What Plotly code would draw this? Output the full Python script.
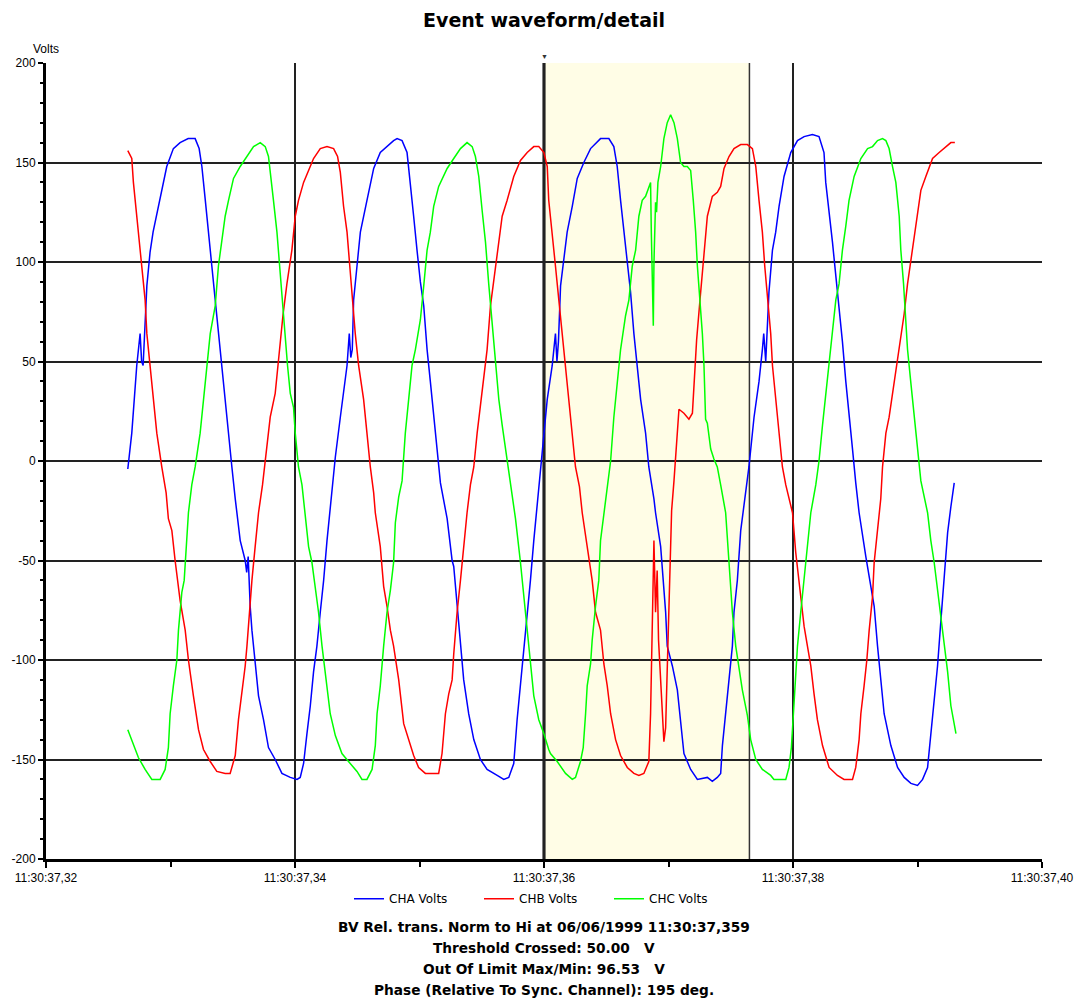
import numpy as np
import plotly.graph_objects as go

# sample times in ms after 11:30:37
cha_t = [326.57, 326.89, 327.29, 327.56, 327.68, 327.80, 328.10, 328.36, 328.60, 329.17,
         329.70, 330.23, 330.77, 331.42, 331.98, 332.30, 332.52, 332.78, 333.02, 333.32,
         333.59, 333.85, 334.13, 334.39, 334.66, 334.93, 335.20, 335.33, 335.60, 336.00,
         336.12, 336.24, 336.40, 336.54, 336.80, 337.07, 337.47, 337.87, 338.41, 338.95,
         339.62, 340.16, 340.42, 340.69, 340.96, 341.23, 341.49, 341.76, 342.03, 342.30,
         342.57, 342.83, 343.02, 343.24, 343.64, 344.18, 344.36, 344.48, 344.60, 344.71,
         344.98, 345.25, 345.78, 346.32, 346.85, 347.39, 347.92, 348.20, 348.60, 349.00,
         349.27, 349.53, 349.80, 350.07, 350.34, 350.61, 350.87, 351.14, 351.41, 351.68,
         352.22, 352.62, 352.75, 353.02, 353.29, 353.55, 353.95, 354.36, 354.89, 355.43,
         356.24, 356.77, 357.17, 357.57, 357.84, 358.11, 358.37, 358.65, 358.91, 359.18,
         359.45, 359.66, 359.99, 360.26, 360.66, 360.92, 361.04, 361.16, 361.33, 361.59,
         361.86, 362.27, 362.67, 363.20, 363.74, 364.54, 365.21, 365.61, 365.88, 366.15,
         366.42, 366.69, 366.95, 367.22, 367.49, 367.76, 368.16, 368.42, 368.83, 368.96,
         369.37, 369.77, 369.90, 370.31, 370.71, 370.97, 371.24, 371.78, 372.32, 373.12,
         373.52, 373.92, 374.19, 374.33, 374.59, 374.86, 375.13, 375.26, 375.53, 375.80,
         376.06, 376.34, 376.46, 376.87, 377.27, 377.54, 377.65, 377.81, 378.07, 378.35,
         378.61, 378.88, 379.28, 379.82, 380.36, 380.89, 381.56, 382.09, 382.49, 382.63,
         382.90, 383.17, 383.44, 383.70, 383.97, 384.24, 384.50, 384.78, 385.04, 385.31,
         385.85, 386.25, 386.52, 386.79, 387.05, 387.32, 387.86, 388.40, 388.93, 389.47,
         390.00, 390.41, 390.81, 391.07, 391.34, 391.61, 391.88, 392.14, 392.42, 392.68,
         392.95]
cha_v = [-4, 14, 48, 64, 50, 48, 88, 105, 115, 133,
         148, 157, 160, 162, 162, 157, 148, 132, 115, 98,
         81, 64, 48, 31, 14, -3, -19, -26, -40, -50,
         -56, -48, -73, -85, -102, -118, -130, -144, -150, -157,
         -159, -160, -159, -152, -137, -123, -106, -93, -76, -60,
         -40, -23, -12, 2, 22, 48, 64, 52, 56, 81,
         98, 115, 131, 147, 155, 158, 161, 162, 161, 155,
         140, 123, 106, 90, 78, 56, 40, 22, 6, -11,
         -29, -50, -53, -73, -93, -110, -127, -140, -150, -155,
         -158, -160, -159, -152, -130, -113, -93, -76, -60, -40,
         -23, -9, 14, 31, 48, 64, 50, 60, 88, 101,
         115, 128, 142, 150, 157, 162, 162, 158, 148, 131,
         115, 98, 85, 64, 48, 31, 14, -3, -19, -26,
         -43, -76, -93, -103, -115, -130, -147, -155, -160, -159,
         -161, -159, -157, -143, -127, -110, -93, -76, -60, -35,
         -23, -9, -3, 22, 40, 56, 64, 50, 85, 106,
         115, 128, 143, 155, 161, 163, 164, 163, 155, 140,
         126, 110, 93, 78, 60, 40, 22, 6, -11, -26,
         -48, -63, -73, -93, -110, -127, -143, -154, -159, -162,
         -163, -160, -154, -137, -120, -103, -80, -60, -36, -23,
         -11]

chb_t = [326.57, 326.89, 327.02, 327.29, 327.56, 327.77, 327.96, 328.10, 328.36, 328.63,
         328.90, 329.30, 329.65, 329.83, 330.11, 330.37, 330.77, 331.18, 331.44, 331.84,
         332.25, 332.65, 333.19, 333.72, 334.39, 334.79, 335.20, 335.46, 335.73, 336.00,
         336.14, 336.27, 336.54, 336.80, 337.07, 337.39, 337.61, 338.01, 338.41, 338.68,
         339.03, 339.35, 339.75, 340.02, 340.28, 340.69, 341.09, 341.49, 342.03, 342.57,
         343.10, 343.42, 343.64, 343.90, 344.18, 344.39, 344.63, 344.84, 345.11, 345.51,
         345.78, 346.05, 346.32, 346.45, 346.85, 347.12, 347.39, 347.66, 347.92, 348.33,
         348.73, 349.13, 349.53, 349.93, 350.47, 351.14, 351.54, 351.81, 352.08, 352.35,
         352.62, 352.75, 353.02, 353.29, 353.55, 353.82, 354.09, 354.36, 354.63, 355.03,
         355.43, 355.70, 356.10, 356.37, 356.64, 357.04, 357.57, 358.11, 358.65, 359.18,
         359.58, 359.99, 360.26, 360.38, 360.66, 360.92, 361.19, 361.46, 361.73, 361.99,
         362.27, 362.53, 362.85, 363.07, 363.47, 363.87, 364.14, 364.54, 364.81, 365.08,
         365.35, 365.75, 366.15, 366.69, 367.22, 367.62, 368.02, 368.42, 368.56, 368.70,
         368.83, 368.96, 369.09, 369.20, 369.37, 369.53, 369.63, 369.77, 369.93, 370.09,
         370.25, 370.44, 370.71, 370.84, 371.24, 371.64, 371.92, 372.04, 372.26, 372.53,
         372.85, 373.12, 373.52, 373.92, 374.19, 374.46, 374.86, 375.26, 375.80, 376.34,
         376.74, 377.01, 377.27, 377.54, 377.73, 377.95, 378.21, 378.35, 378.61, 378.88,
         379.15, 379.42, 379.96, 380.22, 380.62, 380.89, 381.16, 381.43, 381.69, 381.96,
         382.37, 382.90, 383.57, 384.10, 384.78, 385.04, 385.31, 385.45, 385.71, 385.93,
         386.12, 386.39, 386.52, 386.79, 387.05, 387.19, 387.46, 387.72, 388.12, 388.53,
         388.93, 389.20, 389.60, 389.87, 390.27, 390.67, 391.21, 391.74, 392.28, 392.68,
         393.00]
chb_v = [156, 152, 140, 123, 106, 90, 81, 64, 48, 31,
         14, -3, -16, -29, -35, -50, -70, -85, -100, -118,
         -135, -145, -151, -156, -157, -157, -148, -130, -117, -103,
         -93, -81, -60, -43, -26, -12, 0, 22, 34, 51,
         73, 89, 106, 123, 131, 140, 146, 152, 157, 158,
         157, 153, 145, 128, 115, 98, 81, 64, 48, 31,
         14, -3, -16, -26, -43, -63, -73, -85, -93, -110,
         -132, -140, -148, -154, -157, -157, -157, -147, -127, -117,
         -110, -97, -76, -60, -43, -26, -12, -3, 14, 34,
         56, 78, 98, 110, 123, 131, 143, 151, 155, 158,
         158, 155, 148, 131, 115, 98, 81, 64, 48, 31,
         14, -3, -13, -26, -43, -60, -76, -85, -102, -113,
         -127, -140, -148, -154, -157, -158, -157, -151, -127, -81,
         -40, -76, -55, -90, -110, -128, -141, -134, -100, -60,
         -25, -10, 14, 26, 24, 21, 24, 39, 61, 81,
         106, 123, 133, 135, 138, 147, 153, 157, 159, 159,
         157, 148, 131, 115, 98, 81, 64, 48, 31, 14,
         -3, -12, -26, -46, -68, -83, -93, -103, -117, -130,
         -143, -154, -158, -160, -160, -154, -140, -127, -113, -100,
         -85, -68, -51, -35, -19, -3, 14, 22, 39, 56,
         74, 89, 106, 118, 136, 143, 152, 155, 158, 160,
         160]

chc_t = [326.57, 327.02, 327.42, 327.96, 328.50, 329.17, 329.57, 329.83, 329.97, 330.23,
         330.51, 330.64, 330.77, 330.91, 331.10, 331.26, 331.44, 331.71, 331.98, 332.38,
         332.65, 332.92, 333.19, 333.59, 333.85, 334.13, 334.39, 334.66, 335.06, 335.60,
         336.14, 336.67, 337.21, 337.61, 337.87, 338.07, 338.27, 338.55, 338.76, 339.03,
         339.22, 339.40, 339.62, 339.88, 340.02, 340.28, 340.56, 340.82, 341.09, 341.36,
         341.63, 341.89, 342.17, 342.43, 342.83, 343.24, 343.77, 344.30, 344.98, 345.38,
         345.78, 346.19, 346.45, 346.59, 346.85, 347.12, 347.39, 347.66, 347.92, 348.06,
         348.33, 348.60, 348.86, 349.13, 349.40, 349.67, 350.07, 350.34, 350.61, 350.87,
         351.14, 351.54, 352.22, 352.75, 353.29, 353.82, 354.23, 354.49, 354.76, 355.03,
         355.30, 355.56, 355.83, 356.10, 356.37, 356.64, 356.90, 357.24, 357.71, 358.11,
         358.37, 358.65, 358.91, 359.18, 359.58, 359.99, 360.38, 360.52, 361.06, 361.73,
         362.27, 362.53, 362.93, 363.15, 363.34, 363.47, 363.74, 363.87, 364.14, 364.40,
         364.54, 364.81, 365.08, 365.35, 365.61, 365.88, 366.15, 366.55, 366.82, 367.09,
         367.36, 367.62, 367.89, 368.16, 368.42, 368.56, 368.62, 368.70, 368.78, 368.83,
         368.96, 369.04, 369.15, 369.37, 369.63, 369.90, 370.17, 370.44, 370.71, 370.97,
         371.24, 371.51, 371.78, 371.99, 372.18, 372.32, 372.53, 372.72, 372.85, 372.98,
         373.12, 373.39, 373.65, 373.92, 374.19, 374.59, 374.86, 375.13, 375.40, 375.66,
         375.93, 376.34, 376.60, 377.01, 377.54, 378.21, 378.47, 379.42, 379.68, 379.87,
         380.03, 380.22, 380.36, 380.62, 380.89, 381.16, 381.43, 381.83, 382.09, 382.37,
         382.63, 382.90, 383.17, 383.44, 383.70, 383.97, 384.24, 384.50, 384.91, 385.45,
         385.99, 386.39, 386.79, 387.19, 387.46, 387.72, 387.99, 388.26, 388.53, 388.66,
         388.88, 389.06, 389.20, 389.47, 389.73, 389.99, 390.27, 390.81, 391.07, 391.34,
         391.61, 391.88, 392.14, 392.42, 392.68, 393.09]
chc_v = [-135, -142, -149, -155, -160, -160, -155, -144, -127, -113,
         -100, -85, -76, -66, -60, -43, -26, -12, -3, 14,
         31, 48, 64, 78, 98, 111, 123, 131, 142, 148,
         153, 158, 160, 158, 153, 143, 131, 115, 98, 81,
         64, 48, 34, 27, 14, -3, -12, -26, -43, -51,
         -63, -76, -93, -106, -127, -138, -147, -151, -156, -160,
         -160, -155, -143, -127, -113, -93, -76, -65, -51, -31,
         -18, -10, 14, 31, 48, 56, 71, 88, 106, 115,
         128, 138, 147, 152, 157, 160, 158, 153, 143, 126,
         110, 89, 71, 51, 31, 18, 6, -10, -29, -51,
         -68, -85, -102, -118, -130, -137, -145, -147, -151, -157,
         -160, -159, -151, -144, -127, -113, -102, -90, -73, -60,
         -40, -26, -12, 0, 22, 38, 56, 73, 81, 98,
         106, 123, 131, 133, 138, 140, 115, 81, 68, 99,
         130, 125, 140, 148, 162, 170, 174, 170, 162, 150,
         148, 148, 146, 131, 115, 98, 81, 64, 48, 21,
         19, 6, 1, -3, -12, -26, -51, -76, -93, -105,
         -115, -128, -140, -150, -155, -158, -160, -160, -154, -144,
         -127, -110, -93, -76, -60, -43, -26, -12, 0, 18,
         34, 48, 64, 81, 89, 106, 118, 131, 143, 152,
         157, 158, 161, 162, 161, 157, 148, 140, 123, 106,
         89, 73, 56, 39, 22, 6, -10, -26, -40, -51,
         -65, -76, -90, -106, -123, -137]

channels = ["CHA Volts", "CHB Volts", "CHC Volts"]
colors = ["#0000ff", "#ff0000", "#00ff00"]

volt_ticks = [200, 150, 100, 50, 0, -50, -100, -150, -200]
volt_labels = ["200", "150", "100", "50", "0", "-50", "-100", "-150", "-200"]

event_start = 360.0   # ms, trigger
event_end = 376.5

info_lines = [
    "BV Rel. trans. Norm to Hi at 06/06/1999 11:30:37,359",
    "Threshold Crossed: 50.00   V",
    "Out Of Limit Max/Min: 96.53   V",
    "Phase (Relative To Sync. Channel): 195 deg.",
]

WIDE = "DejaVu Sans"

fig = go.Figure()
for name, t, v, c in zip(channels, [cha_t, chb_t, chc_t], [cha_v, chb_v, chc_v], colors):
    # x axis in hundredths of a second so ticks read 11:30:37,32 ...
    fig.add_trace(go.Scatter(x=np.array(t) / 10, y=v, mode="lines", name=name,
                             line=dict(color=c, width=1.5)))

# event window shading + trigger line
fig.add_shape(type="rect", xref="x", yref="paper", x0=event_start / 10, x1=event_end / 10,
              y0=0, y1=1, fillcolor="#fffde6", line_width=0, layer="below")
fig.add_shape(type="line", xref="x", yref="paper", x0=event_end / 10, x1=event_end / 10,
              y0=0, y1=1, line=dict(color="#333333", width=1.5), layer="between")
fig.add_shape(type="line", xref="x", yref="paper", x0=event_start / 10, x1=event_start / 10,
              y0=0, y1=1, line=dict(color="black", width=3), layer="between")

fig.add_annotation(x=event_start / 10, y=1, xref="x", yref="paper", text="▼", showarrow=False,
                   yanchor="bottom", font=dict(size=7, color="#333333"), yshift=1)
fig.add_annotation(x=0, y=1, xref="paper", yref="paper", text="Volts", showarrow=False,
                   xanchor="center", yanchor="bottom", yshift=5, font=dict(size=12))

for i, line in enumerate(info_lines):
    fig.add_annotation(x=0.5, y=-0.085 - i * 0.0265, xref="paper", yref="paper",
                       text="<b>" + line + "</b>", showarrow=False,
                       xanchor="center", yanchor="middle", font=dict(family=WIDE, size=13.7))

fig.update_layout(
    width=1077, height=1003,
    margin=dict(l=46, r=35, t=63, b=144),
    paper_bgcolor="white", plot_bgcolor="white",
    font=dict(family="Arial", color="black"),
    title=dict(text="<b>Event waveform/detail</b>", x=0.5, xref="paper",
               y=0.98, yanchor="middle", font=dict(family=WIDE, size=19)),
    legend=dict(orientation="h", x=0.5, xanchor="center", y=-0.05, yanchor="middle",
                font=dict(family=WIDE, size=12), bgcolor="rgba(0,0,0,0)",
                entrywidth=85, entrywidthmode="pixels"),
    showlegend=True,
)
fig.update_xaxes(
    range=[32, 40], tickmode="linear", tick0=32, dtick=2, tickformat=".0f",
    tickprefix="11:30:37,", tickfont=dict(size=12), automargin=False,
    showgrid=True, gridcolor="#222222", gridwidth=1.5,
    ticks="outside", ticklen=6, tickwidth=1.5, tickcolor="black",
    minor=dict(tickmode="linear", tick0=32, dtick=1, ticks="outside", ticklen=5,
               tickwidth=1.5, tickcolor="black", showgrid=False),
    showline=True, linewidth=3, linecolor="black", zeroline=False,
)
fig.update_yaxes(
    range=[-200, 200], tickmode="array", tickvals=volt_ticks, ticktext=volt_labels,
    tickfont=dict(size=12), automargin=False,
    showgrid=True, gridcolor="#222222", gridwidth=1.5,
    ticks="outside", ticklen=5, tickwidth=1.5, tickcolor="black",
    minor=dict(tickmode="linear", tick0=0, dtick=10, ticks="outside", ticklen=3,
               tickwidth=1.5, tickcolor="black", showgrid=False),
    showline=True, linewidth=3, linecolor="black", zeroline=False,
)

fig.write_html("out.html", config={"displayModeBar": False},
               post_script="document.body.style.margin='0';")
